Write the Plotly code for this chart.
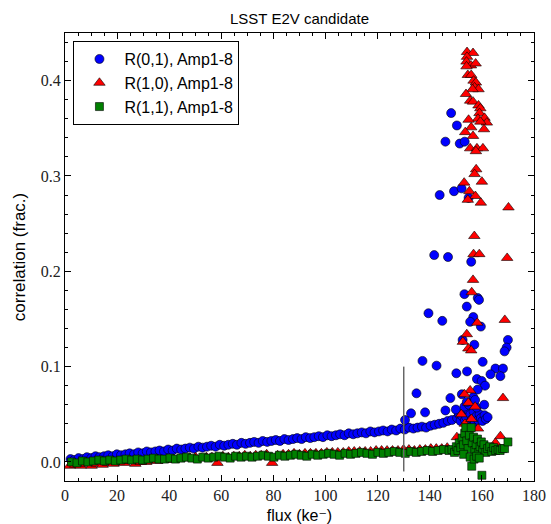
import plotly.graph_objects as go

# ---------------- data ----------------
blue_flux = [2.1, 3.5, 5.2, 6.8, 8.4, 10.1, 11.7, 13.2, 15.0, 16.6, 18.3, 19.9, 21.5, 23.2, 24.8, 26.5, 28.1, 29.8,
             31.4, 33.0, 34.7, 36.3, 38.0, 39.6, 41.3, 42.9, 44.6, 46.2, 47.9, 49.5, 51.2, 52.8, 54.5, 56.1, 57.8,
             59.4, 61.1, 62.7, 64.4, 66.0, 67.7, 69.3, 71.0, 72.6, 74.3, 75.9, 77.6, 79.2, 80.9, 82.5, 84.2, 85.8,
             87.5, 89.1, 90.8, 92.4, 94.1, 95.7, 97.4, 99.0, 100.7, 102.3, 104.0, 105.6, 107.3, 108.9, 110.6, 112.2,
             113.9, 115.5, 117.2, 118.8, 120.5, 122.1, 123.8, 125.4, 127.1, 128.7, 130.4, 132.0, 133.7, 135.3, 137.0,
             138.6, 140.3, 141.9, 143.6, 145.2, 146.9, 148.5,
             150.5, 151.2, 151.8, 152.4, 153.0, 153.5, 154.0, 154.6, 155.1, 155.6, 156.2, 156.8, 157.3, 157.9, 158.5,
             159.1, 159.6, 160.2, 161.0, 161.5, 162.2, 153.3, 155.0, 158.0, 130.5,
             148.2, 150.4, 146.0, 151.5, 153.4, 143.8, 149.3, 152.2, 154.9, 141.7, 147.0, 155.9, 139.5, 144.8, 153.3,
             154.2, 156.7, 155.5, 158.4, 158.9, 159.6, 152.6, 157.1, 170.0, 169.5, 168.7, 137.2, 142.6, 150.2, 154.3,
             160.3, 165.2, 168.1, 167.1, 163.3, 158.1, 159.9, 161.2, 158.4, 134.9, 147.9, 152.3, 156.7, 132.8, 138.2,
             146.0, 150.0, 154.2, 157.4, 160.9]
blue_corr = [0.003, 0.002, 0.004, 0.003, 0.005, 0.004, 0.006, 0.005, 0.006, 0.007, 0.006, 0.008, 0.007, 0.008, 0.009,
             0.008, 0.010, 0.009, 0.011, 0.010, 0.011, 0.012, 0.011, 0.013, 0.012, 0.014, 0.013, 0.014, 0.015, 0.014,
             0.016, 0.015, 0.016, 0.017, 0.016, 0.018, 0.017, 0.018, 0.019, 0.018, 0.020, 0.019, 0.020, 0.021, 0.020,
             0.022, 0.021, 0.022, 0.023, 0.022, 0.024, 0.023, 0.024, 0.025, 0.024, 0.026, 0.025, 0.026, 0.027, 0.026,
             0.028, 0.027, 0.028, 0.029, 0.028, 0.030, 0.029, 0.030, 0.031, 0.030, 0.032, 0.031, 0.032, 0.033, 0.032,
             0.034, 0.033, 0.035, 0.034, 0.036, 0.035, 0.036, 0.037, 0.036, 0.038, 0.039, 0.040, 0.041, 0.043, 0.044,
             0.046, 0.050, 0.043, 0.048, 0.052, 0.044, 0.047, 0.055, 0.041, 0.050, 0.045, 0.053, 0.042, 0.048, 0.044,
             0.050, 0.046, 0.043, 0.049, 0.045, 0.047, 0.058, 0.060, 0.057, 0.044,
             0.366, 0.353, 0.336, 0.334, 0.336, 0.280, 0.284, 0.287, 0.277, 0.217, 0.215, 0.210, 0.156, 0.148, 0.176,
             0.163, 0.152, 0.147, 0.172, 0.170, 0.142, 0.128, 0.123, 0.128, 0.120, 0.116, 0.106, 0.101, 0.093, 0.095,
             0.105, 0.098, 0.098, 0.090, 0.092, 0.087, 0.085, 0.080, 0.076, 0.072, 0.067, 0.071, 0.068, 0.051, 0.052,
             0.054, 0.055, 0.063, 0.065, 0.060]

red_flux = [1.8, 3.9, 6.0, 8.1, 10.2, 12.3, 14.4, 16.5, 18.6, 20.7, 22.8, 24.9, 27.0, 29.1, 31.2, 33.3, 35.4, 37.5,
            39.6, 41.7, 43.8, 45.9, 48.0, 50.1, 52.2, 54.3, 56.4, 58.5, 60.6, 62.7, 64.8, 66.9, 69.0, 71.1, 73.2, 75.3,
            77.4, 79.5, 81.6, 83.7, 85.8, 87.9, 90.0, 92.1, 94.2, 96.3, 98.4, 100.5, 102.6, 104.7, 106.8, 108.9, 111.0,
            113.1, 115.2, 117.3, 119.4, 121.5, 123.6, 125.7, 127.8, 129.9, 132.0, 134.1, 136.2, 138.3, 140.4, 142.5,
            144.6, 146.7,
            154.3, 156.6, 154.3, 154.1, 155.8, 157.6, 154.1, 154.6, 155.9, 156.8, 157.7, 157.2, 158.7, 156.4, 153.9,
            155.5, 156.6, 158.7, 159.4, 159.1, 158.5, 161.0, 161.9, 159.4, 154.9, 155.9, 153.6, 156.6, 160.8, 155.5,
            158.1, 160.4, 157.7, 157.8, 157.2, 153.2, 160.0, 155.2, 157.5, 154.6, 159.6, 170.2, 157.1, 156.8, 159.0,
            169.7, 156.6, 156.1, 168.8, 158.2, 154.2, 152.7, 154.8, 155.9, 155.5, 153.3, 168.1, 154.8, 157.4, 152.1,
            150.4, 167.1, 165.2, 153.5, 156.0, 158.5, 155.0]
red_corr = [-0.004, -0.003, -0.004, -0.002, -0.004, -0.002, -0.003, -0.001, -0.002, 0.000, -0.001, 0.001, -0.002,
            0.000, 0.000, 0.002, 0.001, 0.002, 0.002, 0.003, 0.003, 0.004, 0.004, 0.005, 0.004, 0.005, 0.005, -0.001,
            0.006, 0.005, 0.006, 0.006, 0.007, 0.006, 0.007, 0.007, 0.008, -0.001, 0.007, 0.008, 0.008, 0.009, 0.008,
            0.009, 0.009, 0.009, 0.009, 0.010, 0.010, 0.010, 0.010, 0.011, 0.011, 0.011, 0.011, 0.011, 0.012, 0.012,
            0.012, 0.012, 0.012, 0.013, 0.013, 0.012, 0.013, 0.013, 0.014, 0.014, 0.014, 0.015,
            0.430, 0.429, 0.425, 0.420, 0.416, 0.418, 0.415, 0.406, 0.406, 0.400, 0.398, 0.393, 0.391, 0.391, 0.386,
            0.379, 0.378, 0.374, 0.371, 0.366, 0.360, 0.361, 0.356, 0.357, 0.359, 0.351, 0.346, 0.342, 0.349, 0.329,
            0.329, 0.329, 0.326, 0.307, 0.302, 0.293, 0.294, 0.284, 0.279, 0.275, 0.272, 0.267, 0.237, 0.218, 0.218,
            0.214, 0.191, 0.178, 0.149, 0.146, 0.134, 0.126, 0.119, 0.117, 0.075, 0.071, 0.067, 0.062, 0.058, 0.050,
            0.026, 0.027, 0.020, 0.040, 0.045, 0.035, 0.030]

green_flux = [2.5, 4.6, 6.7, 8.8, 10.9, 13.0, 15.1, 17.2, 19.3, 21.4, 23.5, 25.6, 27.7, 29.8, 31.9, 34.0, 36.1, 38.2,
              40.3, 42.4, 44.5, 46.6, 48.7, 50.8, 52.9, 55.0, 57.1, 59.2, 61.3, 63.4, 65.5, 67.6, 69.7, 71.8, 73.9,
              76.0, 78.1, 80.2, 82.3, 84.4, 86.5, 88.6, 90.7, 92.8, 94.9, 97.0, 99.1, 101.2, 103.3, 105.4, 107.5,
              109.6, 111.7, 113.8, 115.9, 118.0, 120.1, 122.2, 124.3, 126.4, 128.5, 130.6, 132.7, 134.8, 136.9, 139.0,
              141.1, 143.2, 145.3, 147.4,
              148.5, 149.5, 150.2, 150.8, 151.3, 151.9, 152.4, 152.9, 153.4, 153.8, 154.2, 154.7, 155.2, 155.9, 156.3,
              156.8, 157.3, 157.8, 158.3, 158.8, 159.3, 159.8, 160.3, 160.8, 161.5, 162.2, 163.0, 163.8, 164.5, 165.3,
              166.2, 167.0, 168.0, 168.7, 170.0, 156.1, 160.0, 153.0, 155.5, 157.0, 158.0, 159.0]
green_corr = [0.000, -0.001, 0.001, 0.000, 0.001, 0.002, 0.001, 0.002, 0.001, 0.002, 0.003, 0.002, 0.003, 0.002,
              0.003, 0.004, 0.003, 0.003, 0.004, 0.003, 0.004, 0.005, 0.004, 0.003, 0.005, 0.004, 0.005, 0.006, 0.005,
              0.004, 0.006, 0.005, 0.006, 0.005, 0.006, 0.007, 0.006, 0.005, 0.007, 0.006, 0.007, 0.008, 0.007, 0.006,
              0.008, 0.007, 0.008, 0.009, 0.008, 0.007, 0.009, 0.008, 0.009, 0.010, 0.009, 0.008, 0.010, 0.009, 0.010,
              0.011, 0.010, 0.009, 0.011, 0.010, 0.011, 0.012, 0.011, 0.012, 0.013, 0.012,
              0.013, 0.010, 0.016, 0.012, 0.020, 0.015, 0.025, 0.018, 0.030, 0.036, 0.022, 0.014, 0.028, 0.036, 0.020,
              0.026, 0.012, 0.018, 0.024, 0.010, 0.016, 0.021, 0.012, 0.018, 0.010, 0.014, 0.016, 0.011, 0.015, 0.012,
              0.013, 0.012, 0.014, 0.014, 0.021, -0.0045, -0.014, 0.008, 0.005, 0.003, 0.006, 0.004]

marker_line_x = [130, 130]
marker_line_y = [-0.01, 0.1]

series_names = ["R(0,1), Amp1-8", "R(1,0), Amp1-8", "R(1,1), Amp1-8"]
x_ticks = [0, 20, 40, 60, 80, 100, 120, 140, 160, 180]
y_ticks = [0.0, 0.1, 0.2, 0.3, 0.4]

# ---------------- figure ----------------
fig = go.Figure()
edge = dict(color="black", width=0.6)
fig.add_trace(go.Scatter(x=blue_flux, y=blue_corr, mode="markers", name=series_names[0],
                         marker=dict(symbol="circle", size=9, color="#0000ff", line=edge)))
fig.add_trace(go.Scatter(x=red_flux, y=red_corr, mode="markers", name=series_names[1],
                         marker=dict(symbol="triangle-up", size=10, color="#ff0000", line=edge)))
fig.add_trace(go.Scatter(x=green_flux, y=green_corr, mode="markers", name=series_names[2],
                         marker=dict(symbol="square", size=8, color="#008000", line=edge)))
fig.add_trace(go.Scatter(x=marker_line_x, y=marker_line_y, mode="lines", showlegend=False,
                         line=dict(color="#666666", width=1.5), hoverinfo="skip"))

tickfont = dict(family="Liberation Serif", size=16, color="#222222")
axis_common = dict(showline=True, linecolor="black", linewidth=1, mirror="ticks", ticks="inside",
                   ticklen=6, tickwidth=1, tickcolor="black", showgrid=False, zeroline=False,
                   tickfont=tickfont)

fig.update_xaxes(range=[0, 180], tickvals=x_ticks, ticktext=[str(v) for v in x_ticks],
                 minor=dict(dtick=5, ticks="inside", ticklen=3, tickcolor="black", showgrid=False),
                 title=dict(text="flux (ke\u207b)", font=dict(family="Liberation Sans, DejaVu Sans", size=16, color="black"),
                            standoff=10),
                 **axis_common)
fig.update_yaxes(range=[-0.02, 0.45], tickvals=y_ticks, ticktext=["%.1f" % v for v in y_ticks],
                 minor=dict(dtick=0.02, tick0=0, ticks="inside", ticklen=3, tickcolor="black", showgrid=False),
                 title=dict(text="correlation (frac.)", font=dict(family="Liberation Sans", size=17, color="black"),
                            standoff=10),
                 **axis_common)

fig.update_layout(
    width=551, height=524,
    margin=dict(l=65, r=17, t=33, b=43, autoexpand=False),
    paper_bgcolor="white", plot_bgcolor="white",
    title=dict(text="LSST E2V candidate", xref="paper", x=0.5, xanchor="center", y=1 - 19 / 524, yanchor="middle",
               font=dict(family="Liberation Sans", size=15, color="black")),
    legend=dict(x=0.018, y=0.982, xanchor="left", yanchor="top", bgcolor="white",
                bordercolor="black", borderwidth=1, font=dict(family="Liberation Sans", size=16, color="black"),
                tracegroupgap=0, itemwidth=40),
    showlegend=True,
)

fig.write_html("out.html")
